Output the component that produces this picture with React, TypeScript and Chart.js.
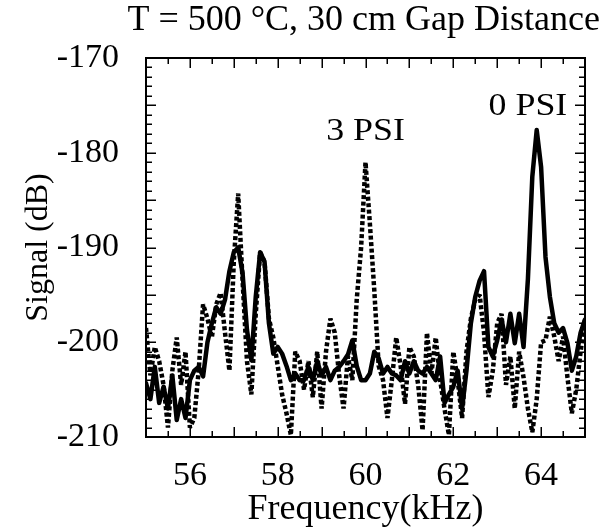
import React, { useEffect, useRef } from 'react';
import { Chart, registerables } from 'chart.js';

Chart.register(...registerables);

const FONT = "'Liberation Serif', 'Times New Roman', serif";

const freqKHz = [
  55.0, 55.1, 55.2, 55.3, 55.4, 55.5, 55.6, 55.7, 55.8, 55.9,
  56.0, 56.1, 56.2, 56.3, 56.4, 56.5, 56.6, 56.7, 56.8, 56.9,
  57.0, 57.1, 57.2, 57.3, 57.4, 57.5, 57.6, 57.7, 57.8, 57.9,
  58.0, 58.1, 58.2, 58.3, 58.4, 58.5, 58.6, 58.7, 58.8, 58.9,
  59.0, 59.1, 59.2, 59.3, 59.4, 59.5, 59.6, 59.7, 59.8, 59.9,
  60.0, 60.1, 60.2, 60.3, 60.4, 60.5, 60.6, 60.7, 60.8, 60.9,
  61.0, 61.1, 61.2, 61.3, 61.4, 61.5, 61.6, 61.7, 61.8, 61.9,
  62.0, 62.1, 62.2, 62.3, 62.4, 62.5, 62.6, 62.7, 62.8, 62.9,
  63.0, 63.1, 63.2, 63.3, 63.4, 63.5, 63.6, 63.7, 63.8, 63.9,
  64.0, 64.1, 64.2, 64.3, 64.4, 64.5, 64.6, 64.7, 64.8, 64.9,
  65.0,
];

// 0 PSI (solid)
const signal0Psi = [
  -204.3, -206, -202.6, -206.4, -204.7, -207, -203.5, -208.2, -206, -208,
  -204, -203, -202.6, -203.6, -200, -198, -196.3, -197, -195.5, -192.5,
  -190.5, -190, -192.7, -198.7, -201.9, -195.2, -190.5, -191.5, -198, -201.2,
  -200.5, -201.2, -202.5, -204, -203.3, -204, -204, -202.6, -204, -202,
  -203.5, -202.6, -204, -203, -202.6, -202, -201.3, -199.8, -202.5, -204,
  -204, -203.3, -201, -201.7, -203.3, -202.6, -203.3, -203.5, -204, -202,
  -203.3, -202, -203, -203.3, -202.6, -203.3, -204, -201.5, -206.4, -205.5,
  -204.7, -203, -207, -203, -198, -195.2, -193.5, -192.5, -200.5, -201.5,
  -199.8, -197.6, -200, -197, -200.1, -197, -200.5, -193.3, -182.5, -177.6,
  -181.5, -191, -195.2, -198, -199, -198.5, -200.1, -203, -201.5, -199,
  -197.6,
];

// 3 PSI (dotted)
const signal3Psi = [
  -198.5, -203.5, -200.5, -202, -204.5, -209, -203, -199.5, -204.5, -201,
  -209, -208, -203, -196, -197.5, -199.5, -196, -194.8, -199, -203,
  -191.5, -184.3, -193.5, -202, -205.5, -197, -190.5, -191.5, -197.5, -199.5,
  -202.5, -205.5, -207.5, -209.8, -201, -202, -205, -202, -205.8, -201,
  -207, -201, -197.5, -199, -203.5, -207, -201.5, -204, -195.5, -190,
  -181, -187.5, -194.5, -202.5, -204, -208, -204, -199.5, -202.5, -206.5,
  -200.5, -201.5, -204.5, -209.3, -199, -203.3, -199.5, -204, -207, -209.8,
  -201, -204, -208, -201, -197.5, -195.5, -195, -199, -205.8, -203,
  -198, -197, -204.5, -201.5, -207, -201, -203.7, -207, -209.5, -206,
  -200, -199.8, -197.3, -199.4, -202, -199.4, -203.7, -207.5, -205, -201,
  -197.6,
];

const xTickLabels = [56, 58, 60, 62, 64];
const yTickLabels = [-210, -200, -190, -180, -170];

const annotationTexts = ['3 PSI', '0 PSI'];
const annotationFreq = [60.0, 63.7];
const annotationSignal = [-177.8, -175.1];

const framePlugin = {
  id: 'frameTicks',
  afterDatasetsDraw(chart: any) {
    const { ctx, chartArea: a, scales } = chart;
    const x = scales.x;
    const y = scales.y;
    ctx.save();
    ctx.strokeStyle = '#000';
    ctx.lineWidth = 1.5;
    ctx.lineCap = 'butt';
    ctx.beginPath();
    for (let i = 0; i <= 20; i++) {
      const v = x.min + i * 0.5;
      const px = Math.round(x.getPixelForValue(v)) + 0.25;
      const len = i % 2 === 0 ? 10 : 6;
      ctx.moveTo(px, a.bottom);
      ctx.lineTo(px, a.bottom - len);
      ctx.moveTo(px, a.top);
      ctx.lineTo(px, a.top + len);
    }
    for (let i = 0; i <= 40; i++) {
      const v = y.min + i;
      const py = Math.round(y.getPixelForValue(v)) + 0.25;
      const len = i % 5 === 0 ? 10 : 6;
      ctx.moveTo(a.left, py);
      ctx.lineTo(a.left + len, py);
      ctx.moveTo(a.right, py);
      ctx.lineTo(a.right - len, py);
    }
    ctx.stroke();
    ctx.lineWidth = 2;
    ctx.strokeRect(a.left, a.top, a.right - a.left, a.bottom - a.top);

    ctx.fillStyle = '#000';
    ctx.font = `32px ${FONT}`;
    ctx.textAlign = 'center';
    ctx.textBaseline = 'middle';
    annotationTexts.forEach((t, i) => {
      const px = x.getPixelForValue(annotationFreq[i]);
      const py = y.getPixelForValue(annotationSignal[i]);
      ctx.save();
      ctx.translate(px, py);
      ctx.scale(1.12, 1);
      ctx.fillText(t, 0, 0);
      ctx.restore();
    });
    ctx.restore();
  },
};

export default function App() {
  const ref = useRef<HTMLCanvasElement | null>(null);

  useEffect(() => {
    if (!ref.current) return;
    Chart.defaults.font.family = FONT;
    const pts = (vals: number[]) => freqKHz.map((f, i) => ({ x: f, y: vals[i] }));
    const chart = new Chart(ref.current, {
      type: 'line',
      data: {
        datasets: [
          {
            label: '0 PSI',
            data: pts(signal0Psi),
            borderColor: '#000',
            borderWidth: 4.5,
            borderJoinStyle: 'round',
            borderCapStyle: 'round',
            pointRadius: 0,
            fill: false,
            tension: 0,
            order: 0,
          },
          {
            label: '3 PSI',
            data: pts(signal3Psi),
            borderColor: '#000',
            borderWidth: 4.5,
            borderDash: [4, 2.5],
            borderCapStyle: 'butt',
            borderJoinStyle: 'bevel',
            pointRadius: 0,
            fill: false,
            tension: 0,
            order: 1,
          },
        ],
      },
      options: {
        responsive: true,
        maintainAspectRatio: false,
        animation: false,
        devicePixelRatio: 1,
        events: [],
        layout: { padding: { left: 0, right: 15, top: 0, bottom: 0 } },
        plugins: {
          legend: { display: false },
          tooltip: { enabled: false },
          title: {
            display: true,
            text: 'T = 500 °C, 30 cm Gap Distance',
            align: 'end',
            fullSize: true,
            color: '#000',
            font: { family: FONT, size: 36, weight: 'normal', lineHeight: 1 },
            padding: { top: 3, bottom: 19 },
          },
        },
        scales: {
          x: {
            type: 'linear',
            min: 55,
            max: 65,
            grid: { display: false },
            border: { display: false },
            afterBuildTicks: (s: any) => {
              s.ticks = xTickLabels.map((v) => ({ value: v }));
            },
            afterFit: (s: any) => {
              s.height = 91;
            },
            ticks: {
              color: '#000',
              font: { family: FONT, size: 34, lineHeight: 1 },
              padding: 14,
              maxRotation: 0,
              autoSkip: false,
            },
            title: {
              display: true,
              text: 'Frequency(kHz)',
              color: '#000',
              font: { family: FONT, size: 36, lineHeight: 1 },
              padding: { top: 0, bottom: 0 },
            },
          },
          y: {
            type: 'linear',
            min: -210,
            max: -170,
            grid: { display: false },
            border: { display: false },
            afterBuildTicks: (s: any) => {
              s.ticks = yTickLabels.map((v) => ({ value: v }));
            },
            afterFit: (s: any) => {
              s.width = 146;
            },
            ticks: {
              color: '#000',
              font: { family: FONT, size: 34, lineHeight: 1 },
              padding: 19,
            },
            title: {
              display: true,
              text: 'Signal (dB)',
              color: '#000',
              font: { family: FONT, size: 32, lineHeight: 1 },
              padding: { top: 23, bottom: 0 },
            },
          },
          yRight: {
            type: 'linear',
            position: 'right',
            display: true,
            grid: { display: false },
            border: { display: false },
            ticks: { display: false },
            afterFit: (s: any) => {
              s.width = 15;
            },
          },
        },
      } as any,
      plugins: [framePlugin],
    });
    return () => chart.destroy();
  }, []);

  return (
    <div style={{ position: 'absolute', left: 0, top: 0, width: 615, height: 528, background: '#fff' }}>
      <canvas ref={ref} />
    </div>
  );
}
